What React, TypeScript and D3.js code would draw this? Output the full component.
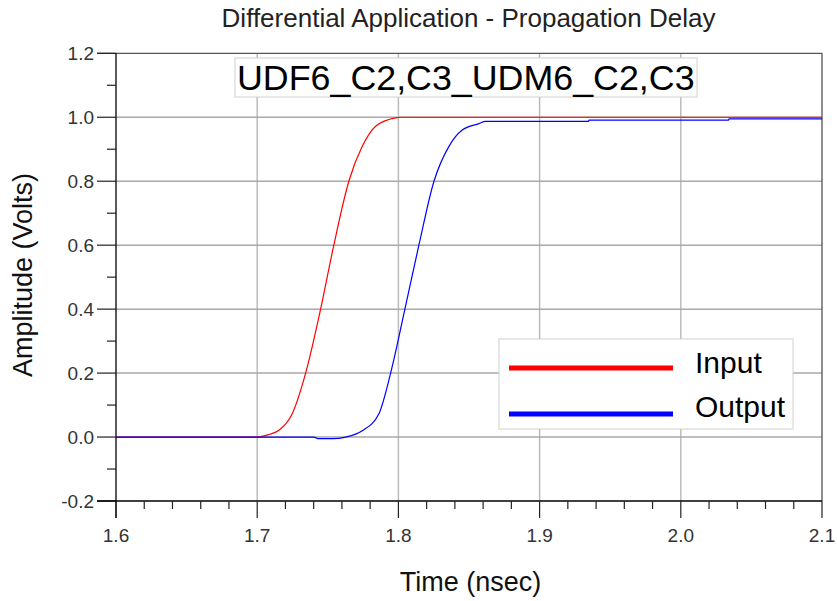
import React from "react";
import * as d3 from "d3";

const inputTime = [1.6, 1.7, 1.7083, 1.7154, 1.7248, 1.7343, 1.7449, 1.7543, 1.7649, 1.7744, 1.7839, 1.798, 1.802, 2.1];
const inputAmp = [0, 0, 0.008, 0.021, 0.073, 0.2, 0.4, 0.601, 0.8, 0.909, 0.972, 0.998, 1.0, 1.0];

const outputTime = [1.6, 1.74, 1.743, 1.754, 1.7626, 1.7744, 1.7862, 1.7945, 1.8046, 1.8145, 1.8252, 1.8358, 1.8452, 1.857, 1.8616, 1.9346, 1.935, 2.0338, 2.0342, 2.1];
const outputAmp = [0, 0, -0.005, -0.005, 0, 0.02, 0.073, 0.2, 0.4, 0.6, 0.8, 0.909, 0.96, 0.98, 0.987, 0.987, 0.991, 0.991, 0.995, 0.995];

const xTicks = [1.6, 1.7, 1.8, 1.9, 2.0, 2.1];
const yTicks = [-0.2, 0.0, 0.2, 0.4, 0.6, 0.8, 1.0, 1.2];
const seriesNames = ["Input", "Output"];
const seriesColors = ["#ff0000", "#0000ff"];

const title = "Differential Application - Propagation Delay";
const annotation = "UDF6_C2,C3_UDM6_C2,C3";
const xLabel = "Time (nsec)";
const yLabel = "Amplitude (Volts)";

export default function App() {
  const W = 837, H = 601;
  const L = 116, R = 822, T = 53.3, B = 501;
  const x = d3.scaleLinear().domain([1.6, 2.1]).range([L, R]);
  const y = d3.scaleLinear().domain([-0.2, 1.2]).range([B, T]);
  const font = "'Liberation Sans', Arial, sans-serif";

  const xMinor = d3.range(0, 26).map((i) => 1.6 + i * 0.02).filter((_, i) => i % 5 !== 0);
  const yMinor = d3.range(0, 7).map((i) => -0.1 + i * 0.2);

  const line = d3
    .line<[number, number]>()
    .x((d) => x(d[0]))
    .y((d) => y(d[1]))
    .curve(d3.curveMonotoneX);

  const inputPts: [number, number][] = inputTime.map((t, i) => [t, inputAmp[i]]);
  const outputPts: [number, number][] = outputTime.map((t, i) => [t, outputAmp[i]]);

  return (
    <svg width={W} height={H} style={{ position: "absolute", left: 0, top: 0, background: "#fff" }}>
      <rect width={W} height={H} fill="#fff" />
      {xTicks.slice(1, -1).map((t) => (
        <line key={"gx" + t} x1={x(t)} x2={x(t)} y1={T} y2={B} stroke="#bbbbbb" strokeWidth={1.5} />
      ))}
      {yTicks.slice(1, -1).map((t) => (
        <line key={"gy" + t} x1={L} x2={R} y1={y(t)} y2={y(t)} stroke="#a8a8a8" strokeWidth={1.5} />
      ))}
      <line x1={97} x2={R} y1={T} y2={T} stroke="#555" strokeWidth={1.2} />
      <line x1={R} x2={R} y1={T} y2={B} stroke="#444" strokeWidth={1.2} />
      <line x1={L} x2={L} y1={T} y2={518} stroke="#000" strokeWidth={1.3} />
      {yTicks.map((t) => (
        <g key={"yt" + t}>
          <line x1={97} x2={L} y1={y(t)} y2={y(t)} stroke="#222" strokeWidth={1.2} />
          <text x={94} y={y(t) + 7} textAnchor="end" fontFamily={font} fontSize={19} fill="#333">
            {t.toFixed(1)}
          </text>
        </g>
      ))}
      {yMinor.map((t) => (
        <line key={"ym" + t} x1={107} x2={L} y1={y(t)} y2={y(t)} stroke="#222" strokeWidth={1.2} />
      ))}
      <line x1={97} x2={R} y1={B} y2={B} stroke="#000" strokeWidth={1.3} />
      {xTicks.map((t) => (
        <g key={"xt" + t}>
          <line x1={x(t)} x2={x(t)} y1={B} y2={518} stroke="#222" strokeWidth={1.2} />
          <text x={x(t)} y={541.5} textAnchor="middle" fontFamily={font} fontSize={19} fill="#333">
            {t.toFixed(1)}
          </text>
        </g>
      ))}
      {xMinor.map((t) => (
        <line key={"xm" + t} x1={x(t)} x2={x(t)} y1={B} y2={509} stroke="#222" strokeWidth={1.2} />
      ))}
      <path d={line(inputPts) || ""} fill="none" stroke={seriesColors[0]} strokeWidth={1.2} />
      <path d={line(outputPts) || ""} fill="none" stroke={seriesColors[1]} strokeWidth={1.2} />
      <rect x={235} y={58} width={462} height={39} fill="#fff" stroke="#d0d0d0" strokeWidth={1} />
      <text x={237} y={89.5} fontFamily={font} fontSize={35.8} fill="#000">
        {annotation}
      </text>
      <rect x={499} y={339} width={294} height={90} fill="#fff" stroke="#d0d0d0" strokeWidth={1} />
      {seriesNames.map((n, i) => (
        <g key={n}>
          <line x1={509} x2={673} y1={368 + i * 46} y2={368 + i * 46} stroke={seriesColors[i]} strokeWidth={5} />
          <text x={695} y={373 + i * 44} fontFamily={font} fontSize={30} fill="#000">
            {n}
          </text>
        </g>
      ))}
      <text x={468.5} y={27} textAnchor="middle" fontFamily={font} fontSize={26} fill="#222">
        {title}
      </text>
      <text x={470.5} y={591} textAnchor="middle" fontFamily={font} fontSize={27} fill="#111">
        {xLabel}
      </text>
      <text
        transform={`translate(32,275) rotate(-90)`}
        textAnchor="middle"
        fontFamily={font}
        fontSize={27}
        fill="#111"
      >
        {yLabel}
      </text>
    </svg>
  );
}
